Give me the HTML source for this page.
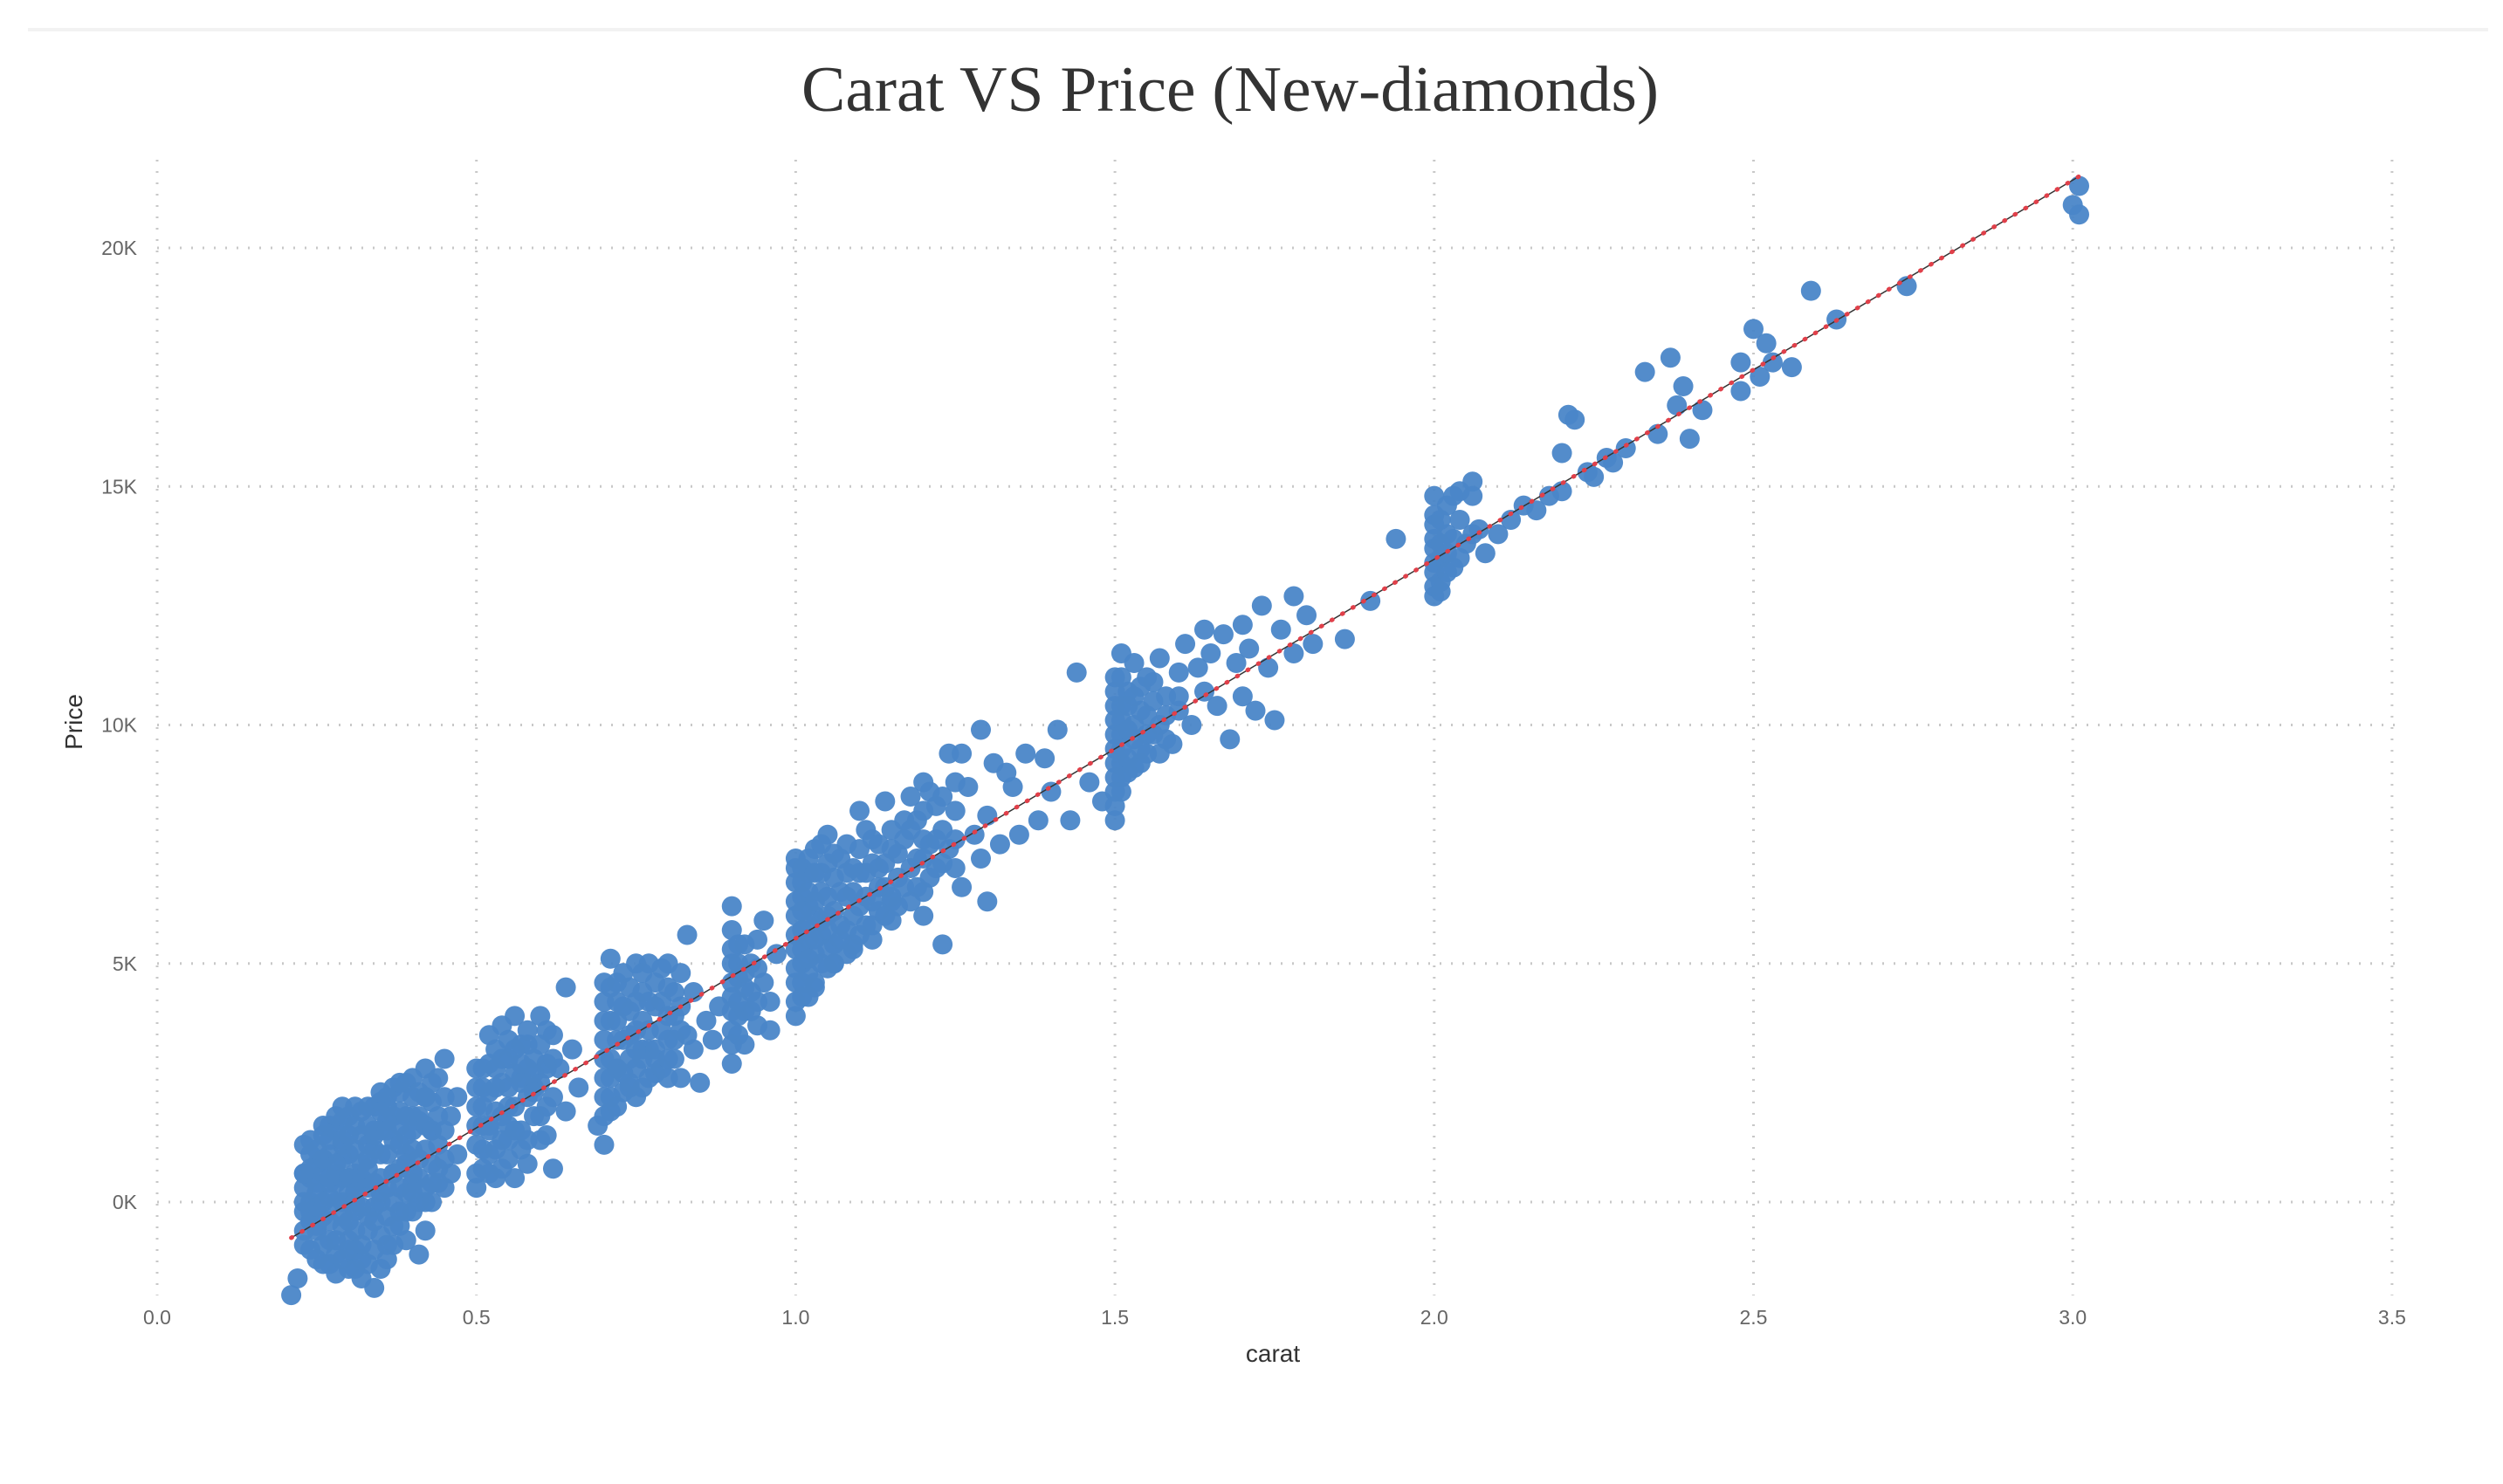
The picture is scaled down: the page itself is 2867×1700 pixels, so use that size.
<!DOCTYPE html>
<html><head><meta charset="utf-8"><style>
html,body{margin:0;padding:0;background:#fff;}
svg{display:block;}
</style></head><body>
<svg id="chart" width="2867" height="1700" xmlns="http://www.w3.org/2000/svg">
<rect x="0" y="0" width="2867" height="1700" fill="#fff"/>
<rect x="32" y="32" width="2818" height="4" fill="#f2f2f2"/>
<text x="1409" y="127" text-anchor="middle" font-family="'Liberation Serif', serif" font-size="74" fill="#333" textLength="982" lengthAdjust="spacingAndGlyphs">Carat VS Price (New-diamonds)</text>
<g id="grid"></g>
<g id="ticks"></g>
<g id="points"></g>
<g id="trend"></g>
<text x="1458" y="1560" text-anchor="middle" font-family="'Liberation Sans', sans-serif" font-size="28" fill="#333">carat</text>
<text transform="translate(94,827) rotate(-90)" text-anchor="middle" font-family="'Liberation Sans', sans-serif" font-size="28" fill="#333">Price</text>
</svg>
<script>
const xTicks = [0.0, 0.5, 1.0, 1.5, 2.0, 2.5, 3.0, 3.5];
const xTickLabels = ["0.0","0.5","1.0","1.5","2.0","2.5","3.0","3.5"];
const yTicks = [0, 5, 10, 15, 20];
const yTickLabels = ["0K","5K","10K","15K","20K"];
const trendCarat = [0.21, 3.01];
const trendPrice = [-0.75, 21.5];
const carat = [
0.21,0.22,0.23,0.23,0.23,0.23,0.24,0.24,0.24,0.25,0.25,0.25,0.26,0.26,0.26,0.27,0.27,0.27,0.28,0.28,0.28,0.29,0.29,0.29,0.30,0.30,0.30,0.30,0.31,0.31,0.31,0.31,0.32,0.32,0.32,0.33,0.33,0.33,0.34,0.34,0.34,0.34,0.35,0.35,0.35,0.36,0.36,0.36,0.37,0.37,0.37,0.38,0.38,0.38,0.39,0.39,0.39,0.40,0.40,0.40,0.41,0.41,0.41,0.42,0.42,0.42,0.43,0.43,0.44,0.44,0.45,0.45,0.46,0.46,0.47,0.47,0.26,0.28,0.32,0.36,0.30,0.24,0.27,0.33,0.35,0.38,0.40,0.29,0.37,0.42,
0.23,0.25,0.27,0.29,0.31,0.33,0.35,0.37,0.39,0.41,0.43,0.26,0.30,0.34,0.38,0.42,0.28,0.32,0.36,0.40,0.44,
0.50,0.50,0.50,0.50,0.51,0.51,0.51,0.52,0.52,0.52,0.53,0.53,0.53,0.54,0.54,0.55,0.55,0.55,0.56,0.56,0.56,0.57,0.57,0.58,0.58,0.59,0.59,0.60,0.60,0.60,0.61,0.62,0.62,0.63,0.64,0.64,0.65,0.66,0.58,0.54,0.52,0.55,0.57,0.59,0.61,
0.69,0.70,0.70,0.70,0.70,0.70,0.71,0.71,0.71,0.72,0.72,0.73,0.73,0.74,0.74,0.75,0.75,0.75,0.76,0.76,0.77,0.77,0.78,0.78,0.79,0.79,0.80,0.80,0.80,0.81,0.81,0.82,0.82,0.83,0.83,0.84,0.84,0.85,0.86,0.87,0.88,0.72,0.74,0.76,0.78,
0.90,0.90,0.90,0.90,0.90,0.90,0.91,0.91,0.91,0.92,0.92,0.93,0.93,0.94,0.94,0.95,0.95,0.96,0.97,0.96,
1.00,1.00,1.00,1.00,1.00,1.00,1.01,1.01,1.01,1.01,1.01,1.02,1.02,1.02,1.02,1.03,1.03,1.03,1.04,1.04,1.05,1.05,1.05,1.06,1.06,1.07,1.07,1.08,1.08,1.09,1.10,1.10,1.10,1.11,1.12,1.12,1.13,1.13,1.14,1.14,1.15,1.15,1.16,1.17,1.18,1.19,1.20,1.20,1.20,1.21,1.22,1.22,1.23,1.23,1.24,1.24,1.25,1.26,1.27,1.28,1.29,1.29,1.30,1.30,1.31,1.32,1.33,1.34,1.35,1.36,1.38,1.39,1.40,1.41,1.43,1.46,1.04,1.18,1.26,1.03,1.06,1.09,1.12,1.15,
1.50,1.50,1.50,1.50,1.50,1.50,1.51,1.51,1.51,1.51,1.52,1.52,1.53,1.53,1.54,1.54,1.55,1.55,1.56,1.57,1.57,1.58,1.59,1.60,1.60,1.61,1.62,1.63,1.64,1.64,1.65,1.66,1.67,1.68,1.69,1.70,1.70,1.71,1.72,1.73,1.74,1.75,1.76,1.78,1.78,1.80,1.81,1.86,1.44,1.48,
1.90,1.94,2.00,2.00,2.00,2.00,2.00,2.01,2.01,2.02,2.02,2.03,2.04,2.05,2.06,2.07,2.08,2.10,2.12,2.14,2.16,2.18,2.20,2.20,2.22,2.24,2.25,2.27,2.28,2.30,
2.33,2.35,2.37,2.38,2.39,2.40,2.42,2.48,2.48,2.50,2.51,2.52,2.53,2.56,2.59,2.63,2.74,3.00,3.01,3.01,2.21
];
const price = [
-1.95,-1.6,1.2,0.3,-0.2,-0.9,0.5,-0.4,0.0,0.8,-0.6,0.2,1.4,-0.3,0.6,1.0,-0.8,0.1,1.5,-1.1,0.4,1.7,-0.5,0.9,1.8,-1.4,0.2,1.0,1.6,-1.0,0.6,-0.2,1.9,-1.2,0.8,1.2,-0.6,0.3,2.0,-1.8,1.1,-0.1,1.5,-0.7,0.5,2.2,-0.3,1.0,2.4,0.0,1.3,1.9,-0.5,0.7,2.5,0.2,1.4,2.6,-0.2,1.1,2.3,-1.1,0.5,2.8,0.0,1.6,2.1,0.8,2.6,1.2,3.0,0.3,1.8,0.6,2.2,1.0,-1.3,-1.5,-1.6,-1.2,-0.8,1.0,1.6,2.0,2.1,2.3,1.8,0.0,-0.9,-0.6,
0.6,-0.1,0.4,1.2,0.0,0.9,0.2,0.6,1.0,1.8,1.5,0.9,0.5,1.4,1.6,2.2,0.6,0.4,1.7,0.4,0.7,
0.3,1.2,2.0,2.8,0.7,1.6,2.4,3.5,1.0,2.9,0.5,1.9,3.2,1.3,2.5,0.9,3.0,2.0,1.5,3.9,2.7,1.1,3.3,2.2,0.8,3.0,1.8,3.9,2.5,1.3,2.0,3.5,0.7,2.8,4.5,1.9,3.2,2.4,3.6,3.7,1.6,1.6,2.6,2.4,2.9,
1.6,1.2,2.2,3.0,3.8,4.6,5.1,2.6,1.9,3.4,4.2,2.3,4.8,3.0,4.0,2.8,5.0,3.6,2.4,4.4,3.2,5.0,2.7,4.1,3.6,4.9,2.6,3.4,4.5,3.9,3.0,4.8,2.6,5.6,3.5,4.4,3.2,2.5,3.8,3.4,4.1,2.8,2.5,3.2,3.0,
2.9,3.6,4.3,5.0,6.2,5.7,3.9,4.7,5.4,3.3,4.5,5.0,4.0,5.5,3.7,4.6,5.9,4.2,5.2,3.6,
3.9,4.6,5.3,6.0,6.7,7.2,4.3,5.0,5.7,6.4,7.0,4.8,5.5,6.2,6.9,5.2,6.0,7.4,5.6,6.5,4.9,7.7,6.0,5.4,6.8,5.8,7.2,5.2,6.4,6.0,8.2,5.6,6.9,6.4,7.6,5.5,6.1,7.0,8.4,6.6,5.9,7.4,6.8,8.0,6.3,7.2,8.8,6.0,7.6,6.8,8.3,7.0,5.4,7.8,9.4,7.4,8.2,6.6,8.7,7.7,9.9,7.2,6.3,8.1,9.2,7.5,9.0,8.7,7.7,9.4,8.0,9.3,8.6,9.9,8.0,8.8,7.5,8.5,9.4,4.5,5.0,5.3,5.8,6.3,
8.0,8.6,9.2,9.8,10.4,11.0,11.5,8.9,9.5,10.1,10.7,9.0,11.3,9.7,10.3,9.2,11.0,9.8,10.5,9.4,11.4,10.2,9.6,11.1,10.6,11.7,10.0,11.2,12.0,10.7,11.5,10.4,11.9,9.7,11.3,12.1,10.6,11.6,10.3,12.5,11.2,10.1,12.0,12.7,11.5,12.3,11.7,11.8,11.1,8.4,
12.6,13.9,12.7,13.2,13.7,14.2,14.8,13.0,13.5,14.0,14.6,13.3,14.9,13.8,15.1,14.1,13.6,14.0,14.3,14.6,14.5,14.8,15.7,14.9,16.4,15.3,15.2,15.6,15.5,15.8,
17.4,16.1,17.7,16.7,17.1,16.0,16.6,17.0,17.6,18.3,17.3,18.0,17.6,17.5,19.1,18.5,19.2,20.9,21.3,20.7,16.5
];
const caratDense = [
0.23,0.23,0.23,0.24,0.24,0.24,0.24,0.25,0.25,0.25,0.25,0.26,0.26,0.26,0.26,0.27,0.27,0.27,0.27,0.28,0.28,0.28,0.28,0.29,0.29,0.29,0.29,0.29,
0.30,0.30,0.30,0.30,0.31,0.31,0.31,0.31,0.31,0.32,0.32,0.32,0.32,0.33,0.33,0.33,0.33,0.34,0.34,0.34,0.34,0.35,0.35,0.35,0.35,0.35,0.36,0.36,0.36,0.36,
0.37,0.37,0.37,0.38,0.38,0.38,0.38,0.39,0.39,0.39,0.39,0.40,0.40,0.40,0.40,0.41,0.41,0.41,0.42,0.42,0.42,0.43,0.43,0.43,0.43,0.44,0.44,0.45,0.45,0.45,
0.50,0.50,0.50,0.51,0.51,0.51,0.52,0.52,0.52,0.53,0.53,0.53,0.54,0.54,0.54,0.55,0.55,0.55,0.56,0.56,0.56,0.57,0.57,0.57,0.58,0.58,0.58,0.59,0.59,0.60,0.60,0.61,0.61,0.61,0.62,0.62,
0.70,0.70,0.70,0.70,0.71,0.71,0.71,0.71,0.72,0.72,0.72,0.72,0.73,0.73,0.73,0.74,0.74,0.74,0.75,0.75,0.75,0.76,0.76,0.76,0.77,0.77,0.77,0.78,0.78,0.79,0.79,0.80,0.80,0.80,0.81,0.81,0.82,0.82,
0.90,0.90,0.90,0.90,0.91,0.91,0.91,0.92,0.92,0.92,0.93,0.94,0.94,
1.00,1.00,1.00,1.00,1.00,1.01,1.01,1.01,1.01,1.02,1.02,1.02,1.02,1.02,1.03,1.03,1.03,1.03,1.04,1.04,1.04,1.05,1.05,1.05,1.05,1.06,1.06,1.06,1.07,1.07,1.08,1.08,1.08,1.09,1.09,1.09,
1.10,1.10,1.11,1.11,1.11,1.12,1.12,1.13,1.13,1.14,1.14,1.15,1.15,1.16,1.16,1.17,1.17,1.18,1.18,1.19,1.19,1.20,1.20,1.20,1.21,1.21,1.22,1.23,1.23,1.25,1.25,1.25,
1.50,1.50,1.50,1.50,1.50,1.51,1.51,1.51,1.51,1.51,1.52,1.52,1.52,1.53,1.53,1.53,1.54,1.54,1.55,1.55,1.56,1.56,1.57,1.58,1.58,1.60,
2.00,2.00,2.00,2.00,2.01,2.01,2.01,2.02,2.02,2.03,2.03,2.04,2.04,2.06,2.06
];
const priceDense = [
-0.6,0.0,0.6,-1.0,-0.2,0.7,1.3,-1.2,-0.5,0.4,1.1,-0.9,0.0,0.9,1.6,-1.3,-0.4,0.5,1.3,-0.8,0.0,0.8,1.8,-1.2,-0.3,0.5,1.3,2.0,
-1.0,-0.4,0.5,1.4,-1.4,-0.6,0.2,1.1,2.0,-0.9,-0.1,0.5,1.4,-1.3,-0.3,0.7,1.6,-1.0,-0.4,0.4,1.5,-1.4,0.0,1.0,1.9,2.3,-0.9,0.3,1.5,2.0,
-0.5,0.6,1.8,-0.2,0.3,1.2,2.5,-0.8,-0.2,0.8,1.8,0.2,0.6,1.5,2.2,0.0,0.9,1.7,0.3,1.1,2.2,0.0,0.4,1.5,2.5,0.4,1.8,0.9,1.5,2.2,
0.6,1.6,2.4,1.1,2.0,2.8,0.6,1.5,2.3,1.1,2.4,2.8,0.7,1.8,3.0,1.3,2.4,3.4,0.5,2.0,3.2,1.5,2.5,2.9,1.3,2.8,3.3,2.3,2.7,1.8,3.3,1.4,2.8,3.6,2.2,3.0,
1.8,2.6,3.4,4.2,2.2,3.0,3.8,4.5,2.0,2.8,3.8,4.6,2.7,3.4,4.1,2.4,3.5,4.5,2.2,3.2,4.2,3.0,3.8,4.8,2.6,3.6,4.2,3.2,4.6,2.8,4.2,3.0,3.9,5.0,3.4,4.4,3.6,4.1,
3.3,4.0,4.6,5.3,3.5,4.2,5.0,4.0,4.8,5.4,4.4,4.2,4.9,
4.2,4.9,5.6,6.3,7.0,4.6,5.3,6.1,6.7,4.3,5.1,5.8,6.5,7.2,4.6,5.5,6.3,6.9,5.0,5.9,6.9,5.3,5.7,6.4,7.1,5.0,6.1,7.3,5.5,6.5,5.7,6.9,7.5,5.4,6.5,7.0,
6.2,7.4,5.8,6.9,7.8,6.3,7.1,6.6,7.5,6.0,7.1,6.4,7.8,6.2,7.3,6.6,7.6,7.0,7.8,6.6,8.0,6.5,7.2,8.2,7.5,8.6,7.6,7.1,8.5,7.0,7.6,8.8,
8.3,8.9,9.5,10.1,10.7,8.6,9.2,9.8,10.4,11.0,9.3,9.9,10.4,9.1,10.0,10.6,9.5,10.8,9.4,10.2,9.8,10.9,10.0,9.7,10.6,10.3,
12.9,13.4,13.9,14.4,12.8,13.8,14.3,13.2,13.6,13.9,14.8,13.5,14.3,14.0,14.8
];
const NS = "http://www.w3.org/2000/svg";
const X0 = 180, PXC = 731.4, Y0 = 1377, PXK = 54.65;
const GT = 183, GB = 1484, GL = 180, GR = 2745;
function sx(c){ return X0 + c * PXC; }
function sy(p){ return Y0 - p * PXK; }
const grid = document.getElementById('grid');
const ticks = document.getElementById('ticks');
const pts = document.getElementById('points');
const trend = document.getElementById('trend');
xTicks.forEach(function(t, i){
  const l = document.createElementNS(NS, 'line');
  l.setAttribute('x1', sx(t)); l.setAttribute('x2', sx(t));
  l.setAttribute('y1', GT); l.setAttribute('y2', GB);
  l.setAttribute('stroke', '#c8c8c8'); l.setAttribute('stroke-width', '3'); l.setAttribute('stroke-dasharray', '2 11');
  
  
  grid.appendChild(l);
  const tx = document.createElementNS(NS, 'text');
  tx.setAttribute('x', sx(t)); tx.setAttribute('y', 1517);
  tx.setAttribute('text-anchor', 'middle'); tx.setAttribute('font-family', "'Liberation Sans', sans-serif");
  tx.setAttribute('font-size', '23'); tx.setAttribute('fill', '#666');
  tx.textContent = xTickLabels[i];
  
  
  ticks.appendChild(tx);
});
yTicks.forEach(function(t, i){
  const l = document.createElementNS(NS, 'line');
  l.setAttribute('x1', GL); l.setAttribute('x2', GR);
  l.setAttribute('y1', sy(t)); l.setAttribute('y2', sy(t));
  l.setAttribute('stroke', '#c8c8c8'); l.setAttribute('stroke-width', '3'); l.setAttribute('stroke-dasharray', '2 11');
  
  
  grid.appendChild(l);
  const tx = document.createElementNS(NS, 'text');
  tx.setAttribute('x', 157); tx.setAttribute('y', sy(t) + 8);
  tx.setAttribute('text-anchor', 'end'); tx.setAttribute('font-family', "'Liberation Sans', sans-serif");
  tx.setAttribute('font-size', '23'); tx.setAttribute('fill', '#666');
  tx.textContent = yTickLabels[i];
  
  
  ticks.appendChild(tx);
});
const allCarat = carat.concat(caratDense);
const allPrice = price.concat(priceDense);
allCarat.forEach(function(c, i){
  const ci = document.createElementNS(NS, 'circle');
  ci.setAttribute('cx', sx(c)); ci.setAttribute('cy', sy(allPrice[i]));
  ci.setAttribute('r', 11.5); ci.setAttribute('fill', '#4a86c8'); ci.setAttribute('fill-opacity', '0.95');
  
  
  pts.appendChild(ci);
});
const tl = document.createElementNS(NS, 'line');
tl.setAttribute('x1', sx(trendCarat[0])); tl.setAttribute('y1', sy(trendPrice[0]));
tl.setAttribute('x2', sx(trendCarat[1])); tl.setAttribute('y2', sy(trendPrice[1]));
tl.setAttribute('stroke', '#333'); tl.setAttribute('stroke-width', '1.5');


trend.appendChild(tl);
const td = document.createElementNS(NS, 'line');
td.setAttribute('x1', sx(trendCarat[0])); td.setAttribute('y1', sy(trendPrice[0]));
td.setAttribute('x2', sx(trendCarat[1])); td.setAttribute('y2', sy(trendPrice[1]));
td.setAttribute('stroke', '#e0404a'); td.setAttribute('stroke-width', '5'); td.setAttribute('stroke-linecap', 'round');
td.setAttribute('stroke-dasharray', '1 13');


trend.appendChild(td);
</script>
</body></html>
